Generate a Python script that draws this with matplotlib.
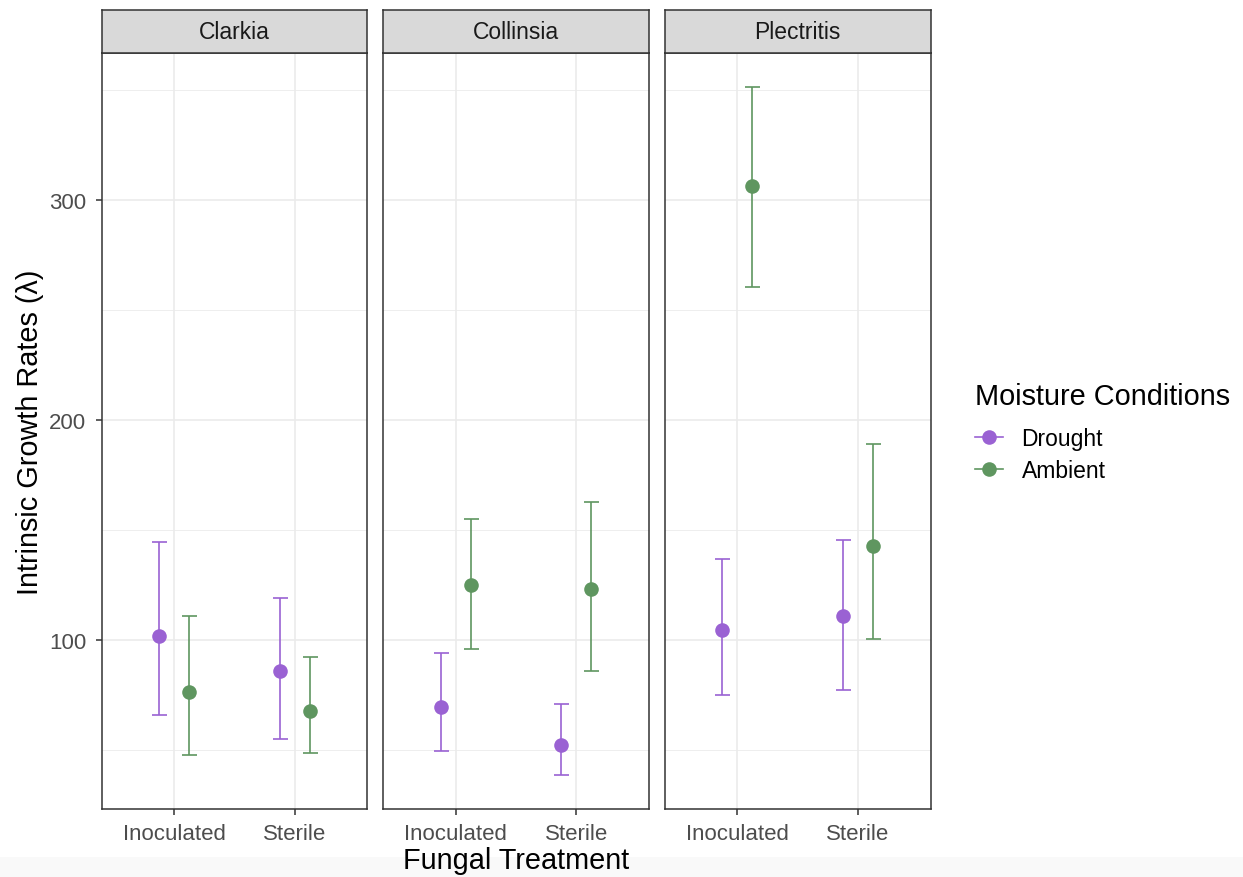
import matplotlib
matplotlib.use("Agg")
import matplotlib.pyplot as plt
from matplotlib.lines import Line2D
from matplotlib.patches import Rectangle
import numpy as np

plt.rcParams["font.family"] = ["Liberation Sans", "DejaVu Sans"]

# ---------------- data ----------------
species = ["Clarkia", "Collinsia", "Plectritis"]
treatments = ["Inoculated", "Sterile"]
conditions = ["Drought", "Ambient"]

# values per species, ordered [Inoculated, Sterile]
drought_mean = {"Clarkia": [102.1, 85.9], "Collinsia": [69.7, 52.5], "Plectritis": [104.5, 111.2]}
drought_low = {"Clarkia": [65.9, 55.1], "Collinsia": [49.5, 38.9], "Plectritis": [75.3, 77.5]}
drought_high = {"Clarkia": [144.5, 119.2], "Collinsia": [94.1, 71.0], "Plectritis": [137.1, 145.7]}

ambient_mean = {"Clarkia": [76.4, 68.0], "Collinsia": [125.3, 123.3], "Plectritis": [306.6, 143.0]}
ambient_low = {"Clarkia": [48.0, 48.6], "Collinsia": [96.2, 85.9], "Plectritis": [260.6, 100.7]}
ambient_high = {"Clarkia": [111.0, 92.4], "Collinsia": [155.3, 163.0], "Plectritis": [351.4, 189.2]}

y_major = [100, 200, 300]
y_minor = [50, 150, 250, 350]

colors = {"Drought": "#9A62D3", "Ambient": "#5F9660"}
series = {
    "Drought": (drought_mean, drought_low, drought_high),
    "Ambient": (ambient_mean, ambient_low, ambient_high),
}
dodge = {"Drought": -0.125, "Ambient": 0.125}

# ---------------- layout ----------------
W, H = 1243, 878
fig = plt.figure(figsize=(W / 100, H / 100), dpi=100)
fig.patch.set_facecolor("white")
fig.patches.append(Rectangle((0, 0), 1, (H - 858) / H, transform=fig.transFigure,
                             facecolor="#F9F9F9", edgecolor="none", zorder=-10))

panel_left = [101.7, 383.3, 665.0]
panel_w = 265.5
panel_top, panel_bot = 54.0, 810.0
strip_top = 10.5

for i, sp in enumerate(species):
    x0 = panel_left[i]
    ax = fig.add_axes([x0 / W, 1 - panel_bot / H, panel_w / W, (panel_bot - panel_top) / H])
    xs = np.arange(len(treatments))
    for cond in conditions:
        m_d, lo_d, hi_d = series[cond]
        m = np.array(m_d[sp])
        lo = np.array(lo_d[sp])
        hi = np.array(hi_d[sp])
        ax.errorbar(xs + dodge[cond], m, yerr=[m - lo, hi - m], fmt="none",
                    ecolor=colors[cond], elinewidth=1.2,
                    capsize=5.4, capthick=1.2, zorder=3)
        ax.plot(xs + dodge[cond], m, "o", color=colors[cond], ms=10.5, mew=0, zorder=4)
    ax.set_xlim(-0.6, 1.6)
    ax.set_ylim(23.3, 367.0)
    ax.set_xticks(xs)
    ax.set_xticklabels(treatments)
    ax.set_yticks(y_major)
    ax.set_yticks(y_minor, minor=True)
    ax.grid(True, which="major", color="#EBEBEB", lw=1.2, zorder=0)
    ax.grid(True, which="minor", axis="y", color="#EBEBEB", lw=0.6, zorder=0)
    ax.set_axisbelow(True)
    for s in ax.spines.values():
        s.set_color("#333333")
        s.set_linewidth(1.1)
    ax.tick_params(axis="both", which="major", length=4.3, width=1.1, color="#333333",
                   labelsize=16, labelcolor="#4D4D4D")
    ax.tick_params(axis="x", which="major", pad=6)
    ax.tick_params(axis="y", which="major", pad=7)
    ax.tick_params(axis="y", which="minor", length=0)
    if i > 0:
        ax.tick_params(axis="y", which="both", left=False, labelleft=False)

    # strip
    sax = fig.add_axes([x0 / W, 1 - panel_top / H, panel_w / W, (panel_top - strip_top) / H])
    sax.set_facecolor("#D9D9D9")
    sax.set_xticks([])
    sax.set_yticks([])
    for s in sax.spines.values():
        s.set_color("#333333")
        s.set_linewidth(1.1)
    sax.text(0.5, 0.5, sp, ha="center", va="center", fontsize=16.5, color="#1A1A1A",
             transform=sax.transAxes)

# axis titles
fig.text(30 / W, 1 - 432 / H, "Intrinsic Growth Rates (\u03bb)", rotation=90,
         ha="center", va="center", fontsize=20.8, color="black")
fig.text(516 / W, 1 - 861 / H, "Fungal Treatment", ha="center", va="center",
         fontsize=20.8, color="black", zorder=5)

# legend
handles = [Line2D([0], [0], color=colors[c], lw=1.2, marker="o", ms=10.5, mew=0)
           for c in conditions]
leg = fig.legend(handles, conditions, loc="upper left",
                 bbox_to_anchor=(954 / W, 1 - 362 / H), frameon=False,
                 title="Moisture Conditions", title_fontsize=20.8, fontsize=16.5,
                 handlelength=1.25, handletextpad=0.8, labelspacing=0.4)
leg._legend_box.align = "left"
leg._legend_box.sep = 0.4 * 16.5 + 6.0

fig.savefig("out.png", dpi=100)
